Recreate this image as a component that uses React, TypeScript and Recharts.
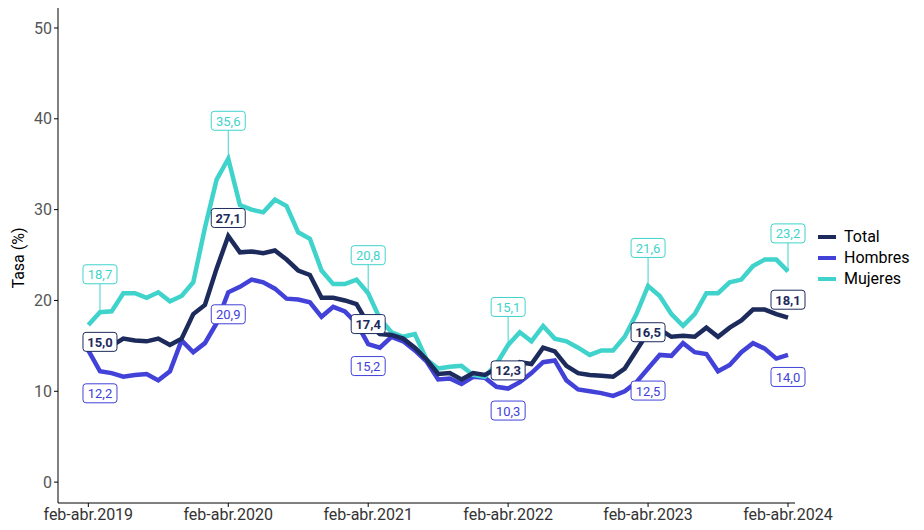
import { LineChart, Line, XAxis, YAxis, LabelList } from 'recharts';

// monthly rolling quarters feb-abr.2019 .. feb-abr.2024
const periods = [0, 12, 24, 36, 48, 60];
const tickLabels = ['feb-abr.2019', 'feb-abr.2020', 'feb-abr.2021', 'feb-abr.2022', 'feb-abr.2023', 'feb-abr.2024'];

const totalSeries = [15.8, 15.0, 15.0, 15.8, 15.6, 15.5, 15.8, 15.1, 15.8, 18.5, 19.5, 23.5, 27.1,
  25.3, 25.4, 25.2, 25.5, 24.5, 23.3, 22.8, 20.3, 20.3, 20.0, 19.6, 17.4,
  16.3, 16.2, 15.8, 14.8, 13.5, 11.9, 12.0, 11.3, 12.0, 11.8, 12.5, 12.3,
  13.2, 13.0, 14.8, 14.4, 12.8, 12.0, 11.8, 11.7, 11.6, 12.5, 14.5, 16.5,
  16.8, 16.0, 16.1, 16.0, 17.0, 16.0, 17.0, 17.8, 19.0, 19.0, 18.5, 18.1];
const hombres = [14.5, 12.2, 12.0, 11.6, 11.8, 11.9, 11.2, 12.2, 15.6, 14.3, 15.3, 17.5, 20.9,
  21.5, 22.3, 22.0, 21.3, 20.2, 20.1, 19.8, 18.2, 19.3, 18.8, 17.5, 15.2,
  14.8, 16.0, 15.5, 14.5, 13.3, 11.3, 11.4, 10.8, 11.6, 11.5, 10.5, 10.3,
  11.0, 12.0, 13.2, 13.4, 11.2, 10.2, 10.0, 9.8, 9.5, 10.0, 11.0, 12.5,
  14.0, 13.9, 15.3, 14.3, 14.1, 12.2, 12.9, 14.3, 15.3, 14.7, 13.6, 14.0];
const mujeres = [17.3, 18.7, 18.8, 20.8, 20.8, 20.3, 20.9, 19.9, 20.5, 22.0, 28.0, 33.3, 35.6,
  30.5, 30.0, 29.7, 31.1, 30.4, 27.5, 26.8, 23.3, 21.8, 21.8, 22.3, 20.8,
  18.0, 16.5, 16.0, 16.3, 13.5, 12.5, 12.7, 12.8, 11.8, 11.6, 13.0, 15.1,
  16.5, 15.5, 17.2, 15.8, 15.5, 14.8, 14.0, 14.5, 14.5, 16.0, 18.5, 21.6,
  20.5, 18.5, 17.2, 18.5, 20.8, 20.8, 22.0, 22.3, 23.8, 24.5, 24.5, 23.2];

const labelIdx = [1, 12, 24, 36, 48, 60];

const data = totalSeries.map((t, i) => ({ i, total: t, hombres: hombres[i], mujeres: mujeres[i] }));

const C_TOTAL = '#1d2b5c';
const C_HOM = '#4242d9';
const C_MUJ = '#3fd3cb';

const fmt = (v: number) => v.toFixed(1).replace('.', ',');

const makeLabel = (color: string, kind: 'on' | 'below' | 'above', src: number[]) =>
  (props: any) => {
    const { x, y, index } = props;
    if (!labelIdx.includes(index)) return null;
    const w = 34, h = 19;
    let cy = y;
    if (kind === 'below') cy = y + 22;
    if (kind === 'above') cy = y - 38;
    if (kind === 'on') cy = y - (index === 60 || index === 12 ? 18 : index === 1 ? 4 : 0);
    const bold = kind === 'on';
    return (
      <g>
        {kind === 'above' && <line x1={x} y1={y} x2={x} y2={cy + h / 2} stroke={color} strokeWidth={1} />}
        <rect x={x - w / 2} y={cy - h / 2} width={w} height={h} rx={3} fill="#fff" stroke={color} strokeWidth={1} />
        <text x={x} y={cy + 5} textAnchor="middle" fontSize={13} fontWeight={bold ? 700 : 400}
          fill={color} fontFamily="Roboto, Arial, sans-serif">{fmt(src[index])}</text>
      </g>
    );
  };

const legend = [
  { name: 'Total', color: C_TOTAL },
  { name: 'Hombres', color: C_HOM },
  { name: 'Mujeres', color: C_MUJ },
];

export default function App() {
  return (
    <div style={{ position: 'relative', width: 916, height: 522, fontFamily: 'Roboto, Arial, sans-serif' }}>
      <LineChart width={916} height={522} data={data} margin={{ top: 0, right: 129, bottom: 0, left: 0 }}>
        <XAxis dataKey="i" type="number" domain={[-2.6, 60.6]} ticks={periods} allowDataOverflow
          tickFormatter={(v: number) => tickLabels[periods.indexOf(v)]} height={27}
          stroke="#000" tick={{ fill: '#333', fontSize: 16 }} tickSize={4} />
        <YAxis type="number" domain={[-2.3, 52.2]} ticks={[0, 10, 20, 30, 40, 50]} allowDataOverflow width={50}
          stroke="#000" tick={{ fill: '#555', fontSize: 16 }} tickSize={4} />
        <Line dataKey="hombres" stroke={C_HOM} strokeWidth={4.5} dot={false} isAnimationActive={false}>
          <LabelList dataKey="hombres" content={makeLabel(C_HOM, 'below', hombres)} />
        </Line>
        <Line dataKey="mujeres" stroke={C_MUJ} strokeWidth={4.5} dot={false} isAnimationActive={false}>
          <LabelList dataKey="mujeres" content={makeLabel(C_MUJ, 'above', mujeres)} />
        </Line>
        <Line dataKey="total" stroke={C_TOTAL} strokeWidth={4.5} dot={false} isAnimationActive={false}>
          <LabelList dataKey="total" content={makeLabel(C_TOTAL, 'on', totalSeries)} />
        </Line>
        <text x={16} y={250} transform="rotate(-90 16 250)" textAnchor="middle" fontSize={16} fill="#000">Tasa (%)</text>
      </LineChart>
      <div style={{ position: 'absolute', left: 810, top: 218 }}>
        {legend.map(l => (
          <div key={l.name} style={{ display: 'flex', alignItems: 'center', height: 21, fontSize: 16 }}>
            <span style={{ display: 'inline-block', width: 18, height: 4, background: l.color, marginRight: 8 }} />
            {l.name}
          </div>
        ))}
      </div>
    </div>
  );
}
